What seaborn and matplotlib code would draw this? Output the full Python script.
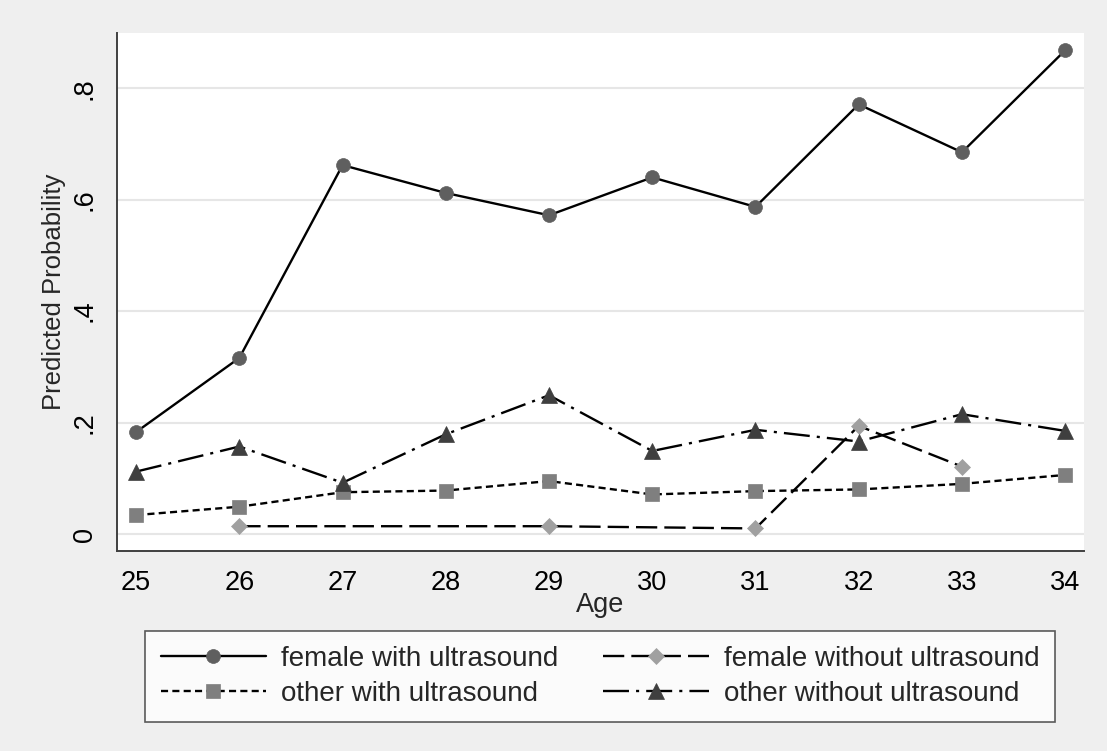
import numpy as np
import pandas as pd
import matplotlib
matplotlib.use("Agg")
import matplotlib.pyplot as plt
import seaborn as sns
from matplotlib.ticker import FuncFormatter

# Data
ages = [25, 26, 27, 28, 29, 30, 31, 32, 33, 34]
female_with = [0.183, 0.316, 0.662, 0.612, 0.572, 0.640, 0.587, 0.771, 0.685, 0.868]
female_without = [np.nan, 0.014, np.nan, np.nan, 0.014, np.nan, 0.010, 0.194, 0.121, np.nan]
other_with = [0.034, 0.049, 0.075, 0.078, 0.095, 0.071, 0.077, 0.080, 0.090, 0.106]
other_without = [0.112, 0.157, 0.092, 0.179, 0.249, 0.149, 0.187, 0.166, 0.215, 0.185]

series_names = ["female with ultrasound", "female without ultrasound",
                "other with ultrasound", "other without ultrasound"]
series_values = [female_with, female_without, other_with, other_without]

df = pd.concat([pd.DataFrame({"age": ages, "prob": v, "group": n})
                for n, v in zip(series_names, series_values)], ignore_index=True)
df = df.dropna()

# Styles (Stata-like mono scheme)
styles = {
    "female with ultrasound": dict(marker="o", markersize=10, mfc="#5f5f5f", ls="-"),
    "female without ultrasound": dict(marker="D", markersize=8.5, mfc="#a0a0a0", ls=(0, (9, 3))),
    "other with ultrasound": dict(marker="s", markersize=10, mfc="#7f7f7f", ls=(0, (3, 1.8))),
    "other without ultrasound": dict(marker="^", markersize=12, mfc="#3f3f3f", ls=(0, (11, 3, 1.3, 3))),
}

sns.set_theme(style="white")
plt.rcParams["font.family"] = ["Liberation Sans", "DejaVu Sans"]

bg = "#efefef"
fig = plt.figure(figsize=(11.07, 7.51), dpi=100, facecolor=bg)
ax = fig.add_axes([0.1057, 0.2663, 0.979 - 0.1057, 0.956 - 0.2663])
ax.set_facecolor("white")

handles = {}
for name in series_names:
    st = styles[name]
    sub = df[df["group"] == name]
    sns.lineplot(data=sub, x="age", y="prob", ax=ax, color="black", linewidth=1.7,
                 linestyle=st["ls"], marker=st["marker"], markersize=st["markersize"],
                 markerfacecolor=st["mfc"], markeredgecolor=st["mfc"],
                 markeredgewidth=0.5, label=name, legend=False, zorder=3)
    handles[name] = ax.lines[-1]

ax.set_xlim(24.815, 34.18)
ax.set_ylim(-0.0305, 0.899)
ax.set_xticks(ages)
ax.set_yticks([0, 0.2, 0.4, 0.6, 0.8])
ax.yaxis.set_major_formatter(FuncFormatter(lambda v, p: "0" if abs(v) < 1e-9 else f"{v:.1f}".lstrip("0")))
ax.grid(axis="y", color="#e6e6e6", linewidth=1.5, zorder=0)
ax.grid(axis="x", visible=False)

for s in ["top", "right"]:
    ax.spines[s].set_visible(False)
for s in ["left", "bottom"]:
    ax.spines[s].set_color("#404040")
    ax.spines[s].set_linewidth(1.4)

ax.tick_params(axis="both", which="major", direction="out", length=8, width=1.1,
               color="#404040", labelsize=19.5, labelcolor="black")
ax.tick_params(axis="x", pad=6)
ax.tick_params(axis="y", pad=6)
for lab in ax.get_yticklabels():
    lab.set_rotation(90)
    lab.set_va("center")

ax.set_xlabel("Age", fontsize=19.5, labelpad=-3)
ax.set_ylabel("Predicted Probability", fontsize=18.5, labelpad=4)

order = ["female with ultrasound", "other with ultrasound",
         "female without ultrasound", "other without ultrasound"]
leg = fig.legend([handles[n] for n in order], order, ncol=2, loc="center",
                 bbox_to_anchor=(0.542, 0.0992), fontsize=20, frameon=True,
                 fancybox=False, edgecolor="#333333", handlelength=3.8,
                 handletextpad=0.55, columnspacing=1.6, labelspacing=0.32,
                 borderpad=0.55, borderaxespad=0)
leg.get_frame().set_linewidth(1.2)
leg.get_frame().set_facecolor("white")

fig.savefig("out.png", dpi=100, facecolor=bg)
